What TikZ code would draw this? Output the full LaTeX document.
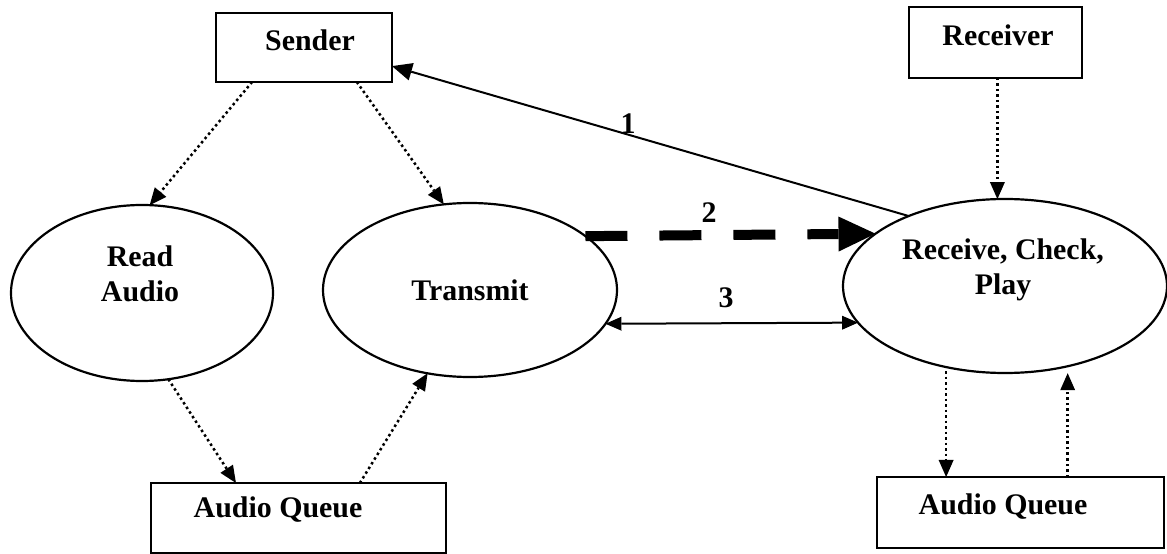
\documentclass[tikz,border=0pt]{standalone}
\usepackage{fontspec}
\setmainfont{Liberation Serif}
\usetikzlibrary{arrows.meta,shapes.geometric,calc}
\begin{document}
\begin{tikzpicture}[x=1bp,y=-1bp,
  box/.style={draw,line width=2.5bp,rectangle,inner sep=0pt,outer sep=0pt},
  proc/.style={draw,line width=2.2bp,ellipse,inner sep=0pt,outer sep=0pt},
  lbl/.style={font={\fontsize{30}{35}\selectfont\bfseries},align=center,inner sep=0pt},
  smalltip/.style={-{Triangle[length=17bp,width=15bp,line width=0pt]}},
  dotarrow/.style={line width=2.5bp,dash pattern=on 2.5bp off 3bp,smalltip},
  solidarrow/.style={line width=2bp,-{Triangle[length=20bp,width=18bp,line width=0pt]}},
  bigdash/.style={line width=10bp,dash pattern=on 42bp off 32bp,-{Triangle[length=37bp,width=35bp,line width=0pt]}},
  twoway/.style={line width=2bp,{Triangle[length=16bp,width=14bp,line width=0pt]}-{Triangle[length=16bp,width=14bp,line width=0pt]}}
]
\useasboundingbox (0,0) rectangle (1167,554);

% boxes
\node[box,minimum width=176bp,minimum height=69bp] (send) at (304,47.5) {};
\node[box,minimum width=173bp,minimum height=71bp] (rbox) at (995.5,42.5) {};
\node[box,minimum width=295bp,minimum height=70bp] (lq) at (298.5,518) {};
\node[box,minimum width=287bp,minimum height=71bp] (rq) at (1020.5,512.5) {};

% ellipses
\node[proc,minimum width=262bp,minimum height=176bp] (read) at (142,293) {};
\node[proc,minimum width=294bp,minimum height=174bp] (trans) at (470,290) {};
\node[proc,minimum width=324bp,minimum height=174bp] (recv) at (1005,286) {};

% texts
\node[lbl] (tsend) at (310,40) {Sender};
\node[lbl] (trbox) at (998,35) {Receiver};
\node[lbl] (tread) at (140,274) {Read\\Audio};
\node[lbl] (ttrans) at (470,290) {Transmit};
\node[lbl] (trecv) at (1003,270) {Receive, Check,\\Play};
\node[lbl] (tlq) at (278,510) {Audio Queue};
\node[lbl] (trq) at (1003,507) {Audio Queue};
\node[lbl] (n1) at (628,124) {1};
\node[lbl] (n2) at (709,213) {2};
\node[lbl] (n3) at (726,298) {3};

% dotted arrows
\draw[dotarrow] ($(send.south west)!0.205!(send.south east)$) -- (read.85);
\draw[dotarrow] ($(send.south west)!0.80!(send.south east)$) -- (trans.107);
\draw[dotarrow] (rbox.south -| recv.95) -- (recv.95);
\draw[dotarrow] (read.-73) -- ($(lq.north west)!0.288!(lq.north east)$);
\draw[dotarrow] ($(lq.north west)!0.708!(lq.north east)$) -- (trans.-117);
\draw[dotarrow,shorten <=4bp] (recv.-126) -- (recv.-126 |- rq.north);
\draw[dotarrow,shorten >=7bp] (recv.-52 |- rq.north) -- (recv.-52);

% numbered connectors
\draw[solidarrow] (recv.144.6) -- ($(send.north east)!0.77!(send.south east)$);
\draw[bigdash] (trans.25) -- (recv.158.6);
\draw[twoway] (trans.-14) -- (recv.194.1);
\end{tikzpicture}
\end{document}
